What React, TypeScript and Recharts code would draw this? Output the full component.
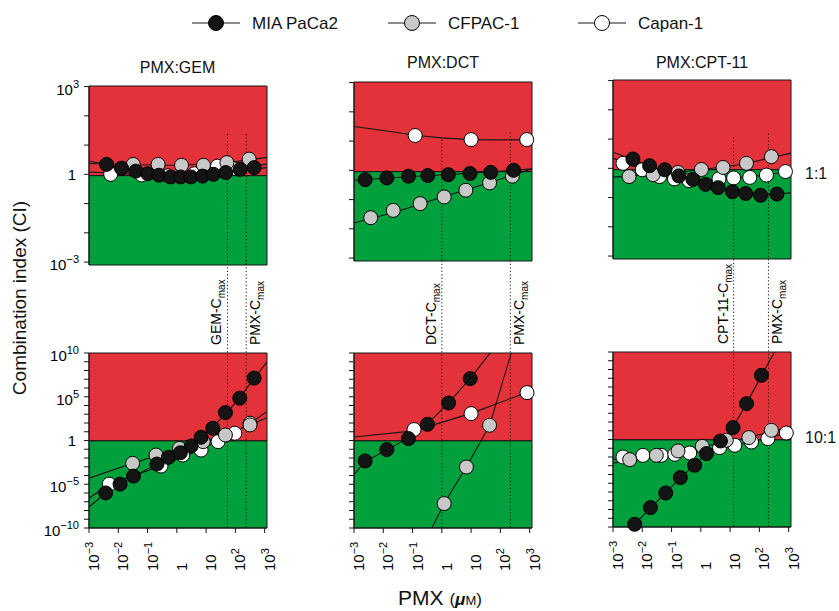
import { ComposedChart, Line, XAxis, YAxis, ReferenceArea, ReferenceLine } from 'recharts'

type Pair = [number, number]

const FONT = '"Liberation Sans", Arial, Helvetica, sans-serif'
const RED = '#e3323a'
const GREEN = '#00a03c'
const INK = '#161616'

const CELL_LINES = ['MIA PaCa2', 'CFPAC-1', 'Capan-1']
const CELL_FILLS = ['#141414', '#c8c8c8', '#ffffff']
const COMBOS = ['PMX:GEM', 'PMX:DCT', 'PMX:CPT-11']
const RATIOS = ['1:1', '10:1']

// every value below is log10: x = PMX (µM), y = CI
const X_TICKS = [-3, -2, -1, 0, 1, 2, 3]
const TOP_Y_TICKS = [-3, -2, -1, 0, 1, 2, 3]
const TOP_Y_LABELS = [-3, 0, 3]
const BOTTOM_Y_TICKS = [-10, -9, -8, -7, -6, -5, -4, -3, -2, -1, 0, 1, 2, 3, 4, 5, 6, 7, 8, 9, 10]
const BOTTOM_Y_LABELS = [-10, -5, 0, 5, 10]
const CI_THRESHOLD = -0.046 // CI = 0.9

const DRUG_NAMES = ['GEM', 'DCT', 'CPT-11']
const DRUG_CMAX = [1.73, 0.0, 1.12]
const PMX_CMAX = [2.37, 2.34, 2.31]
const DRUG_CMAX_TOP = [1.38, 1.05, 1.06]
const PMX_CMAX_TOP = [1.38, 1.29, 1.19]

// PMX:GEM 1:1
const GEM1_MIA: Pair[] = [[-2.4, 0.34], [-1.89, 0.21], [-1.4, 0.11], [-0.99, 0.02], [-0.61, -0.03], [-0.21, -0.09], [0.13, -0.09], [0.48, -0.09], [0.88, -0.06], [1.25, 0], [1.67, 0.06], [2.16, 0.17], [2.64, 0.23]]
const GEM1_CFPAC: Pair[] = [[-1.49, 0.34], [-0.64, 0.34], [0.16, 0.31], [0.91, 0.31], [1.71, 0.4], [2.47, 0.52]]
const GEM1_CAPAN: Pair[] = [[-2.26, 0.0], [-1.2, -0.02], [-0.3, -0.05], [0.6, 0.02], [1.39, 0.28], [1.9, 0.2]]
const GEM1_MIA_FIT: Pair[] = [[-3, 0.45], [-2.4, 0.34], [-1.5, 0.12], [-0.6, -0.04], [0.3, -0.09], [1.2, -0.02], [2.0, 0.1], [3.08, 0.23]]
const GEM1_CFPAC_FIT: Pair[] = [[-3, 0.37], [-1.5, 0.33], [0, 0.31], [1.5, 0.37], [3.08, 0.58]]
const GEM1_CAPAN_FIT: Pair[] = [[-3, 0.08], [-2, 0.03], [-0.5, -0.03], [1, 0.08], [2, 0.2], [3.08, 0.35]]

// PMX:DCT 1:1
const DCT1_MIA: Pair[] = [[-2.62, -0.32], [-1.88, -0.26], [-1.14, -0.2], [-0.48, -0.18], [0.22, -0.15], [0.96, -0.11], [1.67, -0.07], [2.45, 0]]
const DCT1_CFPAC: Pair[] = [[-2.43, -1.62], [-1.66, -1.37], [-0.74, -1.14], [0.08, -0.91], [0.82, -0.68], [1.63, -0.43], [2.41, -0.2]]
const DCT1_CAPAN: Pair[] = [[-0.91, 1.19], [1.0, 1.05], [2.9, 1.05]]
const DCT1_MIA_FIT: Pair[] = [[-3, -0.34], [-1, -0.21], [1, -0.1], [2.45, 0], [3.08, 0.05]]
const DCT1_CFPAC_FIT: Pair[] = [[-3, -1.8], [-1.5, -1.4], [0, -0.92], [1.5, -0.46], [3.08, 0.05]]
const DCT1_CAPAN_FIT: Pair[] = [[-3, 1.5], [-2, 1.36], [-0.91, 1.2], [0, 1.11], [1, 1.05], [2, 1.04], [3.08, 1.05]]

// PMX:CPT-11 1:1
const CPT1_MIA: Pair[] = [[-2.32, 0.32], [-1.75, 0.09], [-1.23, -0.05], [-0.75, -0.26], [-0.27, -0.38], [0.16, -0.55], [0.59, -0.66], [1.08, -0.8], [1.53, -0.86], [2.04, -0.92], [2.6, -0.88]]
const CPT1_CFPAC: Pair[] = [[-2.45, -0.28], [-1.63, -0.22], [-0.78, -0.14], [0.02, -0.04], [0.76, 0.03], [1.56, 0.17], [2.41, 0.4]]
const CPT1_CAPAN: Pair[] = [[-2.66, 0.17], [-2.0, -0.05], [-1.41, -0.28], [-0.9, -0.36], [-0.4, -0.42], [0.62, -0.36], [1.12, -0.33], [1.67, -0.31], [2.24, -0.23], [2.89, -0.11]]
const CPT1_MIA_FIT: Pair[] = [[-3, 0.55], [-2.32, 0.3], [-1.5, 0.0], [-0.5, -0.33], [0.5, -0.62], [1.5, -0.84], [2.3, -0.9], [3.08, -0.84]]
const CPT1_CFPAC_FIT: Pair[] = [[-3, -0.3], [-1.5, -0.2], [0, -0.05], [1.5, 0.15], [3.08, 0.52]]
const CPT1_CAPAN_FIT: Pair[] = [[-3, 0.35], [-2, -0.05], [-1, -0.3], [0, -0.4], [1, -0.35], [2, -0.25], [3.08, -0.1]]

// PMX:GEM 10:1
const GEM10_MIA: Pair[] = [[-2.43, -5.99], [-1.94, -4.99], [-1.48, -4.07], [-0.68, -2.69], [-0.29, -1.93], [0.12, -1.4], [0.49, -0.63], [0.83, 0.37], [1.23, 1.4], [1.66, 3.19], [2.15, 4.84], [2.64, 7.13]]
const GEM10_CFPAC: Pair[] = [[-1.51, -2.61], [-0.71, -1.66], [0.09, -0.9], [0.9, -0.13], [1.66, 0.63], [2.5, 1.78]]
const GEM10_CAPAN: Pair[] = [[-2.31, -4.99], [-0.54, -2.92], [0.2, -1.66], [0.83, -1.09], [1.41, -0.13], [1.98, 0.83], [2.5, 1.97]]
const GEM10_MIA_FIT: Pair[] = [[-3, -7.6], [-2.43, -6.0], [-1.48, -4.1], [-0.68, -2.7], [0.12, -1.3], [0.83, 0.3], [1.66, 3.0], [2.15, 4.9], [2.64, 7.1], [3.08, 9.0]]
const GEM10_CFPAC_FIT: Pair[] = [[-3, -4.3], [-1.51, -2.6], [0.09, -0.9], [1.66, 0.6], [2.5, 1.8], [3.08, 2.6]]
const GEM10_CAPAN_FIT: Pair[] = [[-3, -6.6], [-2.31, -5.0], [-0.54, -2.9], [0.83, -1.0], [1.98, 0.9], [2.5, 2.0], [3.08, 3.3]]

// PMX:DCT 10:1
const DCT10_MIA: Pair[] = [[-2.62, -2.34], [-1.88, -1.04], [-1.14, 0.22], [-0.49, 1.85], [0.23, 4.29], [0.97, 7.07]]
const DCT10_CFPAC: Pair[] = [[0.08, -7.21], [0.84, -3.03], [1.63, 1.74]]
const DCT10_CAPAN: Pair[] = [[-0.95, 1.25], [1.0, 3.07], [2.91, 5.47]]
const DCT10_MIA_FIT: Pair[] = [[-3, -3.9], [-2.62, -2.4], [-1.88, -1.1], [-1.14, 0.3], [-0.49, 1.9], [0.23, 4.3], [0.97, 7.1], [1.7, 10.2]]
const DCT10_CFPAC_FIT: Pair[] = [[-0.34, -10], [0.08, -7.2], [0.84, -3.0], [1.63, 1.7], [2.37, 10]]
const DCT10_CAPAN_FIT: Pair[] = [[-3, 0.4], [-0.95, 1.1], [1.0, 3.1], [2.91, 5.5], [3.08, 5.7]]

// PMX:CPT-11 10:1
const CPT10_MIA: Pair[] = [[-2.26, -9.69], [-1.72, -7.78], [-1.2, -6.11], [-0.7, -4.35], [-0.21, -2.95], [0.19, -1.61], [0.67, -0.17], [1.1, 1.36], [1.56, 4.1], [2.07, 7.34]]
const CPT10_CFPAC: Pair[] = [[-2.43, -2.3], [-1.52, -1.81], [-0.78, -1.31], [0.05, -0.78], [0.87, -0.09], [1.64, 0.22], [2.41, 1.05]]
const CPT10_CAPAN: Pair[] = [[-2.66, -2.0], [-1.98, -1.81], [-1.35, -1.81], [-0.89, -1.69], [-0.38, -1.54], [0.64, -0.93], [1.16, -0.66], [1.73, -0.29], [2.29, 0.1], [2.92, 0.74]]
const CPT10_MIA_FIT: Pair[] = [[-2.4, -10.3], [-2.26, -9.7], [-1.72, -7.8], [-1.2, -6.1], [-0.7, -4.35], [-0.21, -2.95], [0.19, -1.6], [0.67, -0.2], [1.1, 1.4], [1.56, 4.1], [2.07, 7.3], [2.55, 10.2]]
const CPT10_CFPAC_FIT: Pair[] = [[-3, -2.7], [-1.5, -1.85], [0, -0.85], [1.5, 0.15], [3.08, 1.4]]
const CPT10_CAPAN_FIT: Pair[] = [[-3, -2.3], [-1.5, -1.85], [0, -1.3], [1.5, -0.45], [3.08, 0.85]]

// [row][col] -> per cell line (MIA, CFPAC, Capan)
const POINTS: Pair[][][][] = [
  [[GEM1_MIA, GEM1_CFPAC, GEM1_CAPAN], [DCT1_MIA, DCT1_CFPAC, DCT1_CAPAN], [CPT1_MIA, CPT1_CFPAC, CPT1_CAPAN]],
  [[GEM10_MIA, GEM10_CFPAC, GEM10_CAPAN], [DCT10_MIA, DCT10_CFPAC, DCT10_CAPAN], [CPT10_MIA, CPT10_CFPAC, CPT10_CAPAN]],
]
const FITS: Pair[][][][] = [
  [[GEM1_MIA_FIT, GEM1_CFPAC_FIT, GEM1_CAPAN_FIT], [DCT1_MIA_FIT, DCT1_CFPAC_FIT, DCT1_CAPAN_FIT], [CPT1_MIA_FIT, CPT1_CFPAC_FIT, CPT1_CAPAN_FIT]],
  [[GEM10_MIA_FIT, GEM10_CFPAC_FIT, GEM10_CAPAN_FIT], [DCT10_MIA_FIT, DCT10_CFPAC_FIT, DCT10_CAPAN_FIT], [CPT10_MIA_FIT, CPT10_CFPAC_FIT, CPT10_CAPAN_FIT]],
]

// layout
const X_DOMAIN: [number, number] = [-3, 3.08]
const TOP_Y_DOMAIN: [number, number] = [-3.1, 3.02]
const BOTTOM_Y_DOMAIN: [number, number] = [-10, 10]
const PLOT_W = 178
const PLOT_LEFT = [88.5, 354, 613.3]
const TOP_PLOT_TOP = [86, 81.5, 79.5]
const BOTTOM_PLOT_TOP = [353.3, 352.7, 351.7]
const TOP_H = 179
const BOTTOM_H = 175
const GAP_TOP = 20.6

const toXY = (pairs: Pair[]) => pairs.map(([x, y]) => ({ x, y }))

const expText = (v: number) => (v < 0 ? '\u2212' + Math.abs(v) : String(v))

function YTick(props: any) {
  const { x, y, payload, labels } = props
  const v = payload.value
  if (!labels.includes(v)) return <g />
  if (v === 0) {
    return (
      <text x={x - 6} y={y + 5.5} textAnchor="end" fontSize={15} fontFamily={FONT} fill="#000">
        1
      </text>
    )
  }
  return (
    <text x={x - 3} y={y + 8} textAnchor="end" fontSize={15} fontFamily={FONT} fill="#000">
      10
      <tspan dy={-7} fontSize={11}>
        {expText(v)}
      </tspan>
    </text>
  )
}

function XTick(props: any) {
  const { x, y, payload } = props
  const v = payload.value
  const bx = x + 10
  const by = y + 36
  return (
    <text
      x={bx}
      y={by}
      transform={`rotate(-90 ${bx} ${by})`}
      textAnchor="start"
      fontSize={15}
      fontFamily={FONT}
      fill="#000"
    >
      {v === 0 ? '1' : '10'}
      {v !== 0 && v !== 1 && (
        <tspan dy={-6} fontSize={11}>
          {expText(v)}
        </tspan>
      )}
    </text>
  )
}

const cmaxLabel = (name: string, dx: number, baseY: number) => (props: any) => {
  const bx = props.viewBox.x + dx
  return (
    <text
      x={bx}
      y={baseY}
      transform={`rotate(-90 ${bx} ${baseY})`}
      fontSize={14}
      fontFamily={FONT}
      fill="#000"
    >
      {name}-C
      <tspan dy={4} fontSize={10}>
        max
      </tspan>
    </text>
  )
}

function Panel({ row, col }: { row: number; col: number }) {
  const isTop = row === 0
  const yw = col === 0 ? 60 : 12
  const mt = isTop ? 16 : 100
  const mb = isTop ? 16 : 0
  const xh = isTop ? 0 : 55
  const plotH = isTop ? TOP_H : BOTTOM_H
  const plotTop = isTop ? TOP_PLOT_TOP[col] : BOTTOM_PLOT_TOP[col]
  const yDomain = isTop ? TOP_Y_DOMAIN : BOTTOM_Y_DOMAIN
  const yTicks = isTop ? TOP_Y_TICKS : BOTTOM_Y_TICKS
  const yLabels = col === 0 ? (isTop ? TOP_Y_LABELS : BOTTOM_Y_LABELS) : []
  const width = yw + PLOT_W + 16
  const height = mt + plotH + xh + mb
  const points = POINTS[row][col]
  const fits = FITS[row][col]
  const dotted = { stroke: INK, strokeWidth: 1, strokeDasharray: '1.2 2.3' }

  return (
    <div style={{ position: 'absolute', left: PLOT_LEFT[col] - yw, top: plotTop - mt }}>
      <ComposedChart width={width} height={height} margin={{ top: mt, right: 16, bottom: mb, left: 0 }}>
        <XAxis
          type="number"
          dataKey="x"
          domain={X_DOMAIN}
          ticks={X_TICKS}
          allowDataOverflow
          hide={isTop}
          height={xh}
          interval={0}
          tickSize={5}
          stroke={INK}
          tick={(p: any) => <XTick {...p} />}
        />
        <YAxis
          type="number"
          dataKey="y"
          domain={yDomain}
          ticks={yTicks}
          allowDataOverflow
          width={yw}
          interval={0}
          tickSize={5}
          stroke={INK}
          tick={(p: any) => <YTick {...p} labels={yLabels} />}
        />
        <ReferenceArea y1={CI_THRESHOLD} y2={yDomain[1]} fill={RED} fillOpacity={1} stroke={INK} strokeWidth={1} />
        <ReferenceArea y1={yDomain[0]} y2={CI_THRESHOLD} fill={GREEN} fillOpacity={1} stroke={INK} strokeWidth={1} />
        {fits.map((f, i) => (
          <Line
            key={'fit' + i}
            data={toXY(f)}
            dataKey="y"
            type="linear"
            stroke={INK}
            strokeWidth={1.1}
            dot={false}
            activeDot={false}
            isAnimationActive={false}
          />
        ))}
        {[2, 1, 0].map((i) => (
          <Line
            key={'pts' + i}
            data={toXY(points[i])}
            dataKey="y"
            stroke="none"
            dot={{ r: 7, fill: CELL_FILLS[i], stroke: '#000', strokeWidth: 1, clipDot: false }}
            activeDot={false}
            isAnimationActive={false}
          />
        ))}
        {isTop ? (
          <ReferenceLine
            segment={[{ x: DRUG_CMAX[col], y: DRUG_CMAX_TOP[col] }, { x: DRUG_CMAX[col], y: yDomain[0] }]}
            ifOverflow="visible"
            {...dotted}
          />
        ) : (
          <ReferenceLine
            segment={[{ x: DRUG_CMAX[col], y: GAP_TOP }, { x: DRUG_CMAX[col], y: yDomain[0] }]}
            ifOverflow="visible"
            label={cmaxLabel(DRUG_NAMES[col], -6, mt - 8)}
            {...dotted}
          />
        )}
        {isTop ? (
          <ReferenceLine
            segment={[{ x: PMX_CMAX[col], y: PMX_CMAX_TOP[col] }, { x: PMX_CMAX[col], y: yDomain[0] }]}
            ifOverflow="visible"
            {...dotted}
          />
        ) : (
          <ReferenceLine
            segment={[{ x: PMX_CMAX[col], y: GAP_TOP }, { x: PMX_CMAX[col], y: yDomain[0] }]}
            ifOverflow="visible"
            label={cmaxLabel('PMX', 14, mt - 8)}
            {...dotted}
          />
        )}
      </ComposedChart>
    </div>
  )
}

const LEGEND_X = [216, 412, 602]
const TITLE_X = [177.5, 443, 702]
const TITLE_Y = [73, 68, 68]
const RATIO_Y = [179, 443]

export default function App() {
  return (
    <div
      style={{
        position: 'absolute',
        left: 0,
        top: 0,
        width: 839,
        height: 611,
        background: '#fff',
        overflow: 'hidden',
        fontFamily: FONT,
      }}
    >
      <svg width={839} height={611} style={{ position: 'absolute', left: 0, top: 0 }} fontFamily={FONT}>
        {CELL_LINES.map((name, i) => (
          <g key={name}>
            <line x1={LEGEND_X[i] - 24} x2={LEGEND_X[i] + 24} y1={23} y2={23} stroke={INK} strokeWidth={1.2} />
            <circle cx={LEGEND_X[i]} cy={23} r={7.5} fill={CELL_FILLS[i]} stroke="#000" strokeWidth={1} />
            <text x={LEGEND_X[i] + 36} y={29} fontSize={17} fill="#111">
              {name}
            </text>
          </g>
        ))}
        {COMBOS.map((c, i) => (
          <text key={c} x={TITLE_X[i]} y={TITLE_Y[i]} fontSize={16} textAnchor="middle" fill="#111">
            {c}
          </text>
        ))}
        {RATIOS.map((r, i) => (
          <text key={r} x={805} y={RATIO_Y[i]} fontSize={16} fill="#111">
            {r}
          </text>
        ))}
        <text x={26} y={298} transform="rotate(-90 26 298)" textAnchor="middle" fontSize={19} fill="#111">
          Combination index (CI)
        </text>
        <text x={440} y={605} textAnchor="middle" fill="#111">
          <tspan fontSize={21}>PMX </tspan>
          <tspan fontSize={17}>(</tspan>
          <tspan fontSize={17} fontWeight="bold" fontStyle="italic">
            μ
          </tspan>
          <tspan fontSize={13}>M</tspan>
          <tspan fontSize={17}>)</tspan>
        </text>
      </svg>
      {[0, 1].map((row) => [0, 1, 2].map((col) => <Panel key={row + '-' + col} row={row} col={col} />))}
    </div>
  )
}
